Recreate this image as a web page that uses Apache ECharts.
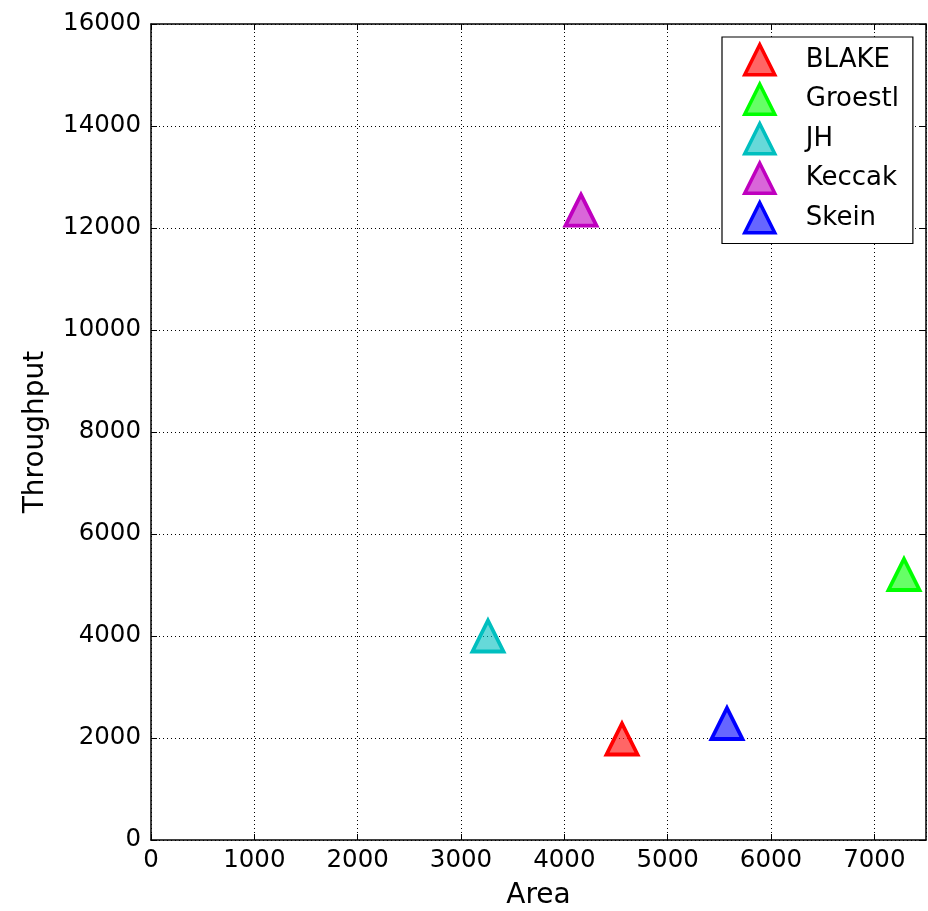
<!DOCTYPE html>
<html>
<head>
<meta charset="utf-8">
<script src="https://cdn.jsdelivr.net/npm/echarts@6/dist/echarts.min.js"></script>
<style>
html,body{margin:0;padding:0;background:#fff;}
#chart{width:928px;height:911px;}
</style>
</head>
<body>
<div id="chart"></div>
<script>
const names = ['BLAKE', 'Groestl', 'JH', 'Keccak', 'Skein'];
const areaValues = [4558, 7287, 3261, 4161, 5574];
const throughputValues = [1980, 5206, 4000, 12350, 2284];
const colors = ['#ff0000', '#00ff00', '#00bfbf', '#bf00bf', '#0000ff'];
const fills = ['rgba(255,0,0,0.6)', 'rgba(0,255,0,0.6)', 'rgba(0,191,191,0.6)', 'rgba(191,0,191,0.6)', 'rgba(0,0,255,0.6)'];

const FONT = 'DejaVu Sans';
const chart = echarts.init(document.getElementById('chart'), null, {renderer: 'canvas'});

const axisCommon = {
  axisLine: {show: true, onZero: false, lineStyle: {color: '#000', width: 1.5}},
  axisTick: {show: true, inside: true, length: 6, lineStyle: {color: '#000', width: 1}},
};
const plain = v => String(v);

const series = names.map((n, i) => ({
  name: n,
  type: 'scatter',
  xAxisIndex: 0,
  yAxisIndex: 0,
  symbol: 'triangle',
  symbolSize: 31,
  data: [[areaValues[i], throughputValues[i]]],
  itemStyle: {color: fills[i], borderColor: colors[i], borderWidth: 3.8, opacity: 1},
  emphasis: {disabled: true}
}));

chart.setOption({
  animation: false,
  textStyle: {fontFamily: FONT},
  grid: {left: 151, right: 2, top: 24, bottom: 71, containLabel: false, outerBoundsMode: 'none'},
  legend: {
    orient: 'vertical',
    left: 722,
    top: 37,
    backgroundColor: '#fff',
    borderColor: '#000',
    borderWidth: 1.2,
    padding: [6, 14, 9, 21],
    itemWidth: 30,
    itemHeight: 30,
    itemGap: 6,
    icon: 'triangle',
    itemStyle: {borderWidth: 3.5},
    textStyle: {fontFamily: FONT, fontSize: 26, color: '#000', padding: [0, 0, 0, 26]},
    data: names
  },
  xAxis: [
    Object.assign({
      type: 'value', position: 'bottom', min: 0, max: 7500, interval: 1000,
      name: 'Area', nameLocation: 'middle', nameGap: 42,
      nameTextStyle: {fontFamily: FONT, fontSize: 28, color: '#000'},
      axisLabel: {fontFamily: FONT, fontSize: 24.5, color: '#000', margin: 8, showMaxLabel: false, formatter: plain},
      splitLine: {show: true, lineStyle: {color: '#000', type: [1, 3], width: 1}}
    }, axisCommon),
    Object.assign({
      type: 'value', position: 'top', min: 0, max: 7500, interval: 1000,
      axisLabel: {show: false}, splitLine: {show: false}
    }, axisCommon)
  ],
  yAxis: [
    Object.assign({
      type: 'value', position: 'left', min: 0, max: 16000, interval: 2000,
      name: 'Throughput', nameLocation: 'middle', nameGap: 101,
      nameTextStyle: {fontFamily: FONT, fontSize: 28, color: '#000'},
      axisLabel: {fontFamily: FONT, fontSize: 24.5, color: '#000', margin: 10, formatter: plain},
      splitLine: {show: true, lineStyle: {color: '#000', type: [1, 3], width: 1}}
    }, axisCommon),
    Object.assign({
      type: 'value', position: 'right', min: 0, max: 16000, interval: 2000,
      axisLabel: {show: false}, splitLine: {show: false}
    }, axisCommon)
  ],
  series: series
});
</script>
</body>
</html>
